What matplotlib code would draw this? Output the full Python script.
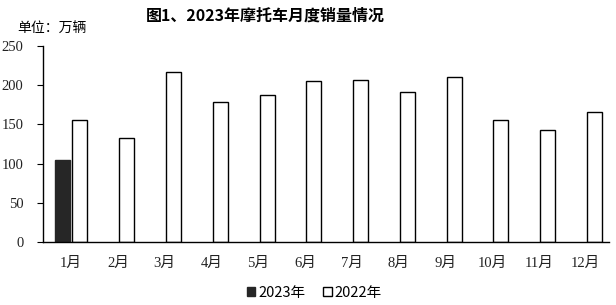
import numpy as np
import matplotlib.pyplot as plt
from matplotlib.patches import Patch

plt.rcParams['font.family'] = ['Noto Sans CJK SC', 'DejaVu Sans']

months = ['1月', '2月', '3月', '4月', '5月', '6月', '7月', '8月', '9月', '10月', '11月', '12月']
sales_2023 = [104]
sales_2022 = [156, 133, 217, 178, 187, 205, 206, 191, 210, 156, 143, 166]

fig = plt.figure(figsize=(6.16, 3.05), dpi=100)
ax = fig.add_axes([43 / 616, 63 / 305, 566 / 616, 196 / 305])

x = np.arange(len(months))
w = 0.32
ax.bar(x[:len(sales_2023)] - 0.19, sales_2023, width=w, color='#262626',
       edgecolor='#262626', linewidth=1)
ax.bar(x + 0.19, sales_2022, width=w, color='white', edgecolor='black', linewidth=1)

ax.set_xlim(-0.6, 11.5)
ax.set_ylim(0, 250)
ax.set_yticks(range(0, 251, 50))
ax.set_xticks(x)
ax.set_xticklabels(months)
for s in ['top', 'right']:
    ax.spines[s].set_visible(False)
ax.spines['left'].set_linewidth(1)
ax.spines['bottom'].set_linewidth(1)
ax.tick_params(axis='x', length=0, pad=11)
ax.tick_params(axis='y', length=4, direction='out', pad=10)
tick_font = ['Liberation Serif', 'Noto Sans CJK SC']
for lab in ax.get_xticklabels() + ax.get_yticklabels():
    lab.set_family(tick_font)
    lab.set_fontsize(10.5)
    lab.set_color('#222222')

fig.text(0.43, 0.95, '图1、2023年摩托车月度销量情况', ha='center', va='center',
         fontsize=11.5, fontweight='bold')
fig.text(0.028, 0.905, '单位：万辆', ha='left', va='center', fontsize=10)

handles = [Patch(facecolor='#262626', edgecolor='#262626', label='2023年'),
           Patch(facecolor='white', edgecolor='black', label='2022年')]
fig.legend(handles=handles, loc='center', bbox_to_anchor=(0.51, 0.04), ncol=2,
           frameon=False, fontsize=10.5, handlelength=0.6, handleheight=0.6,
           handletextpad=0.2, columnspacing=1.2)

fig.savefig('out.png', dpi=100)
